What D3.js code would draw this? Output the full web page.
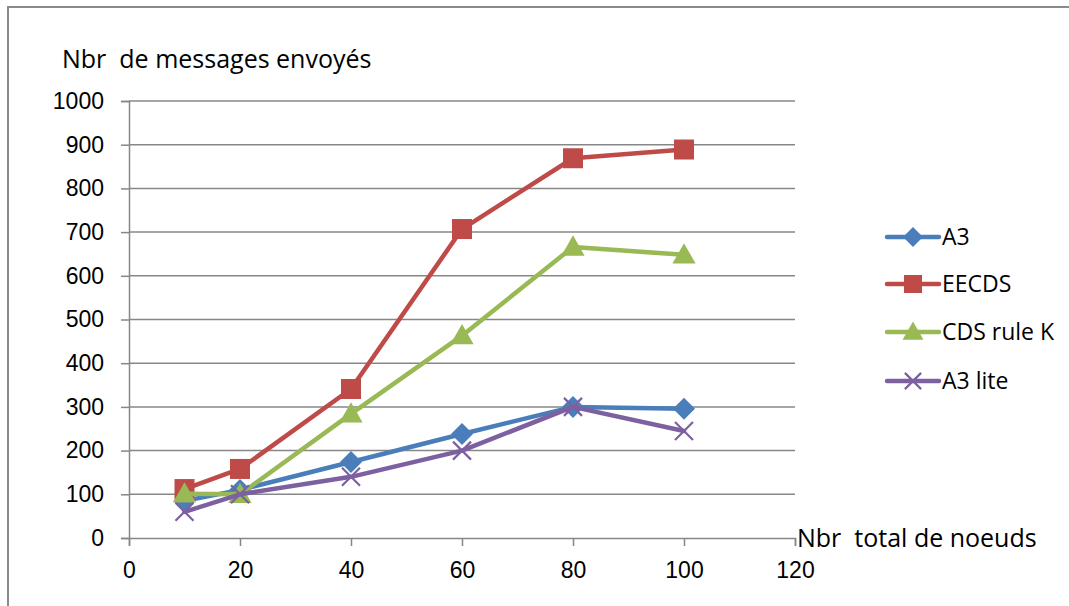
<!DOCTYPE html>
<html>
<head>
<meta charset="utf-8">
<script src="https://cdn.jsdelivr.net/npm/d3@7"></script>
<style>
  html, body { margin: 0; padding: 0; background: #fff; }
  svg { display: block; font-family: "Open Sans", Lato, sans-serif; }
</style>
</head>
<body>
<svg id="chart" width="1069" height="606"></svg>
<script>
// Number of nodes (x) and messages sent per protocol (y)
const nodes = [10, 20, 40, 60, 80, 100];
const a3 = [85, 110, 174, 238, 300, 296];
const eecds = [112, 158, 341, 707, 869, 889];
const cdsRuleK = [101, 100, 284, 463, 666, 648];
const a3Lite = [60, 100, 140, 200, 300, 245];

const seriesNames = ["A3", "EECDS", "CDS rule K", "A3 lite"];
const seriesValues = [a3, eecds, cdsRuleK, a3Lite];
const seriesColors = ["#4A7EBB", "#BE4B48", "#98B954", "#7D60A0"];
const seriesMarkers = ["diamond", "square", "triangle", "cross"];

const xTicks = [0, 20, 40, 60, 80, 100, 120];
const yTicks = [0, 100, 200, 300, 400, 500, 600, 700, 800, 900, 1000];

const yTitle = "Nbr  de messages envoyés";
const xTitle = "Nbr  total de noeuds";

const svg = d3.select("#chart");
const gridColor = "#878787";
const labelSize = 23;
const titleSize = 25;

// Outer chart frame (top and left edges visible)
svg.append("rect")
  .attr("x", 8).attr("y", 7)
  .attr("width", 1200).attr("height", 800)
  .attr("fill", "none").attr("stroke", "#8a8a8a").attr("stroke-width", 2);

const plot = { left: 129, right: 795, top: 101, bottom: 538 };

const x = d3.scaleLinear().domain([0, 120]).range([plot.left, plot.right]);
const y = d3.scaleLinear().domain([0, 1000]).range([plot.bottom, plot.top]);

// Horizontal gridlines
svg.append("g")
  .selectAll("line")
  .data(yTicks.filter(t => t > 0))
  .join("line")
  .attr("x1", plot.left).attr("x2", plot.right)
  .attr("y1", d => y(d)).attr("y2", d => y(d))
  .attr("stroke", gridColor).attr("stroke-width", 1.5);

// Y axis
const yAxis = svg.append("g")
  .attr("transform", `translate(${plot.left},0)`)
  .call(d3.axisLeft(y).tickValues(yTicks).tickSize(8).tickPadding(17).tickFormat(d3.format("d")));
yAxis.select(".domain").attr("stroke", gridColor).attr("stroke-width", 1.5);
yAxis.selectAll(".tick line").attr("stroke", gridColor).attr("stroke-width", 1.5);
yAxis.selectAll(".tick text")
  .attr("fill", "#000").attr("font-size", labelSize).attr("font-family", null);

// X axis
const xAxis = svg.append("g")
  .attr("transform", `translate(0,${plot.bottom})`)
  .call(d3.axisBottom(x).tickValues(xTicks).tickSize(8).tickPadding(16).tickFormat(d3.format("d")));
xAxis.select(".domain").attr("stroke", gridColor).attr("stroke-width", 1.5);
xAxis.selectAll(".tick line").attr("stroke", gridColor).attr("stroke-width", 1.5);
xAxis.selectAll(".tick text")
  .attr("fill", "#000").attr("font-size", labelSize).attr("font-family", null);

// Axis titles
svg.append("text")
  .attr("x", 62).attr("y", 68)
  .attr("font-size", titleSize).attr("fill", "#000")
  .style("white-space", "pre")
  .text(yTitle);

svg.append("text")
  .attr("x", 797).attr("y", 547)
  .attr("font-size", titleSize).attr("fill", "#000")
  .style("white-space", "pre")
  .text(xTitle);

// Marker shapes
function drawMarker(g, type, color, size) {
  if (type === "diamond") {
    const s = size * 0.55;
    g.append("path").attr("d", `M0,${-s}L${s},0L0,${s}L${-s},0Z`).attr("fill", color);
  } else if (type === "square") {
    const s = size / 2;
    g.append("rect").attr("x", -s).attr("y", -s).attr("width", size).attr("height", size).attr("fill", color);
  } else if (type === "triangle") {
    const s = size * 0.58;
    g.append("path").attr("d", `M0,${-s}L${s},${s * 0.75}L${-s},${s * 0.75}Z`).attr("fill", color);
  } else if (type === "cross") {
    const s = size * 0.45;
    g.append("path").attr("d", `M${-s},${-s}L${s},${s}M${-s},${s}L${s},${-s}`)
      .attr("stroke", color).attr("stroke-width", 2.2).attr("fill", "none");
  }
}

const line = d3.line().x((d, i) => x(nodes[i])).y(d => y(d));

seriesValues.forEach((vals, si) => {
  const color = seriesColors[si];
  const g = svg.append("g");
  g.append("path")
    .datum(vals)
    .attr("d", line)
    .attr("fill", "none")
    .attr("stroke", color)
    .attr("stroke-width", 4.5)
    .attr("stroke-linejoin", "round")
    .attr("stroke-linecap", "round");
  vals.forEach((v, i) => {
    const m = g.append("g").attr("transform", `translate(${x(nodes[i])},${y(v)})`);
    drawMarker(m, seriesMarkers[si], color, 20);
  });
});

// Legend
const legend = svg.append("g");
const legendY = [237, 284, 332, 381];
seriesNames.forEach((name, i) => {
  const color = seriesColors[i];
  const ly = legendY[i];
  legend.append("line")
    .attr("x1", 887).attr("x2", 939)
    .attr("y1", ly).attr("y2", ly)
    .attr("stroke", color).attr("stroke-width", 4.5).attr("stroke-linecap", "round");
  const m = legend.append("g").attr("transform", `translate(913,${ly})`);
  drawMarker(m, seriesMarkers[i], color, 18);
  legend.append("text")
    .attr("x", 942).attr("y", ly)
    .attr("dy", "0.36em")
    .attr("font-size", labelSize).attr("fill", "#000")
    .text(name);
});
</script>
</body>
</html>
